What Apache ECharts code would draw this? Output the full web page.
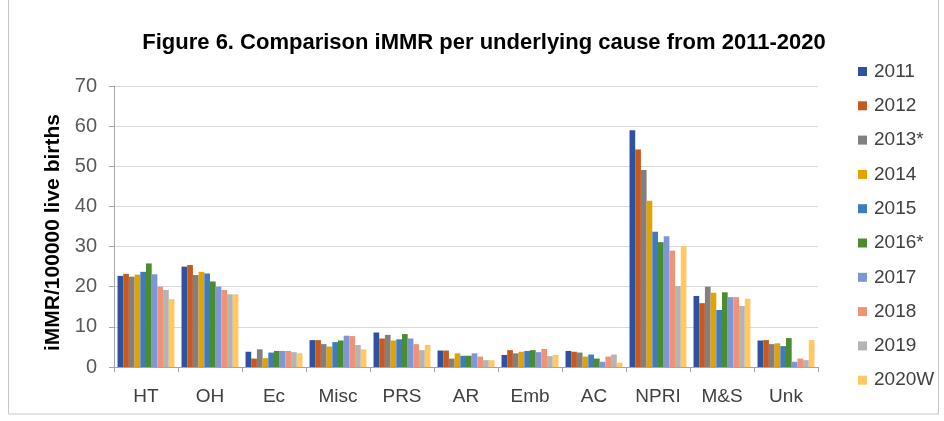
<!DOCTYPE html>
<html><head><meta charset="utf-8">
<script src="https://cdn.jsdelivr.net/npm/echarts@6/dist/echarts.min.js"></script>
<style>html,body{margin:0;padding:0;background:#fff}#c{width:944px;height:421px}</style>
</head><body><div id="c"></div>
<script>
const categories = ['HT','OH','Ec','Misc','PRS','AR','Emb','AC','NPRI','M&S','Unk'];
const seriesNames = ['2011','2012','2013*','2014','2015','2016*','2017','2018','2019','2020W'];
const yTicks = [0,10,20,30,40,50,60,70];
const v2011 = [22.7,25.0,3.8,6.7,8.6,4.1,3.0,4.0,59.0,17.7,6.6];
const v2012 = [23.2,25.4,2.1,6.7,7.1,4.1,4.2,3.8,54.2,15.9,6.7];
const v2013 = [22.5,22.9,4.4,5.7,8.0,2.1,3.4,3.6,49.1,20.0,5.7];
const v2014 = [23.0,23.7,2.2,5.1,6.6,3.4,3.8,2.6,41.4,18.5,5.9];
const v2015 = [23.7,23.3,3.6,6.2,6.9,2.8,4.0,3.1,33.7,14.2,5.2];
const v2016 = [25.8,21.3,4.0,6.6,8.2,2.8,4.2,2.1,31.1,18.6,7.2];
const v2017 = [23.1,20.0,4.0,7.8,7.1,3.4,3.7,1.3,32.6,17.4,1.3];
const v2018 = [20.0,19.2,4.0,7.7,5.7,2.6,4.5,2.6,29.0,17.4,2.1];
const v2019 = [19.2,18.1,3.7,5.5,4.2,1.7,2.7,3.1,20.2,15.2,1.7];
const v2020 = [16.9,18.1,3.4,4.4,5.5,1.7,3.0,1.1,30.1,17.0,6.7];
const allValues = [v2011,v2012,v2013,v2014,v2015,v2016,v2017,v2018,v2019,v2020];
const colors = ['#2F52A0','#C65A1E','#808080','#E2A300','#3D7CC0','#4C8C30','#7C96D8','#EE9378','#B4B4B4','#FFC864'];

const chart = echarts.init(document.getElementById('c'), null, {renderer:'canvas'});
const font = 'Liberation Sans, Arial, sans-serif';
chart.setOption({
  animation:false,
  color: colors,
  textStyle:{fontFamily:font},
  graphic:[
    {type:'rect', shape:{x:8.5,y:-2,width:930,height:416}, style:{fill:'none', stroke:'#C8C8C8', lineWidth:1}},
    {type:'text', x:484, y:43, style:{text:'Figure 6. Comparison iMMR per underlying cause from 2011-2020', font:'bold 22px '+font, fill:'#000', textAlign:'center', textVerticalAlign:'middle'}}
  ],
  legend:{
    orient:'vertical', left:853, top:57,
    itemWidth:9, itemHeight:9, itemGap:15.3,
    icon:'rect',
    textStyle:{fontSize:19, color:'#404040', fontFamily:font, padding:[0,0,0,2]},
    data: seriesNames
  },
  grid:{left:114, right:126, top:86, bottom:54},
  xAxis:{
    type:'category', data:categories,
    axisLine:{lineStyle:{color:'#A6A6A6'}},
    axisTick:{show:true, length:5, lineStyle:{color:'#A6A6A6'}},
    axisLabel:{fontSize:19, color:'#404040', margin:20}
  },
  yAxis:{
    type:'value', min:0, max:70, interval:10,
    name:'iMMR/100000 live births', nameLocation:'middle', nameGap:50, nameRotate:90,
    nameTextStyle:{fontSize:21, fontWeight:'bold', color:'#000', padding:[0,12,0,0]},
    axisLine:{show:true, lineStyle:{color:'#A6A6A6'}},
    axisTick:{show:true, length:5, lineStyle:{color:'#A6A6A6'}},
    axisLabel:{fontSize:20, color:'#595959', margin:17, formatter:v=>yTicks.includes(v)?String(v):''},
    splitLine:{lineStyle:{color:'#D9D9D9'}}
  },
  series: seriesNames.map((n,i)=>({
    name:n, type:'bar', data:allValues[i],
    barGap:'0%', barCategoryGap:'11%'
  }))
});
</script></body></html>
